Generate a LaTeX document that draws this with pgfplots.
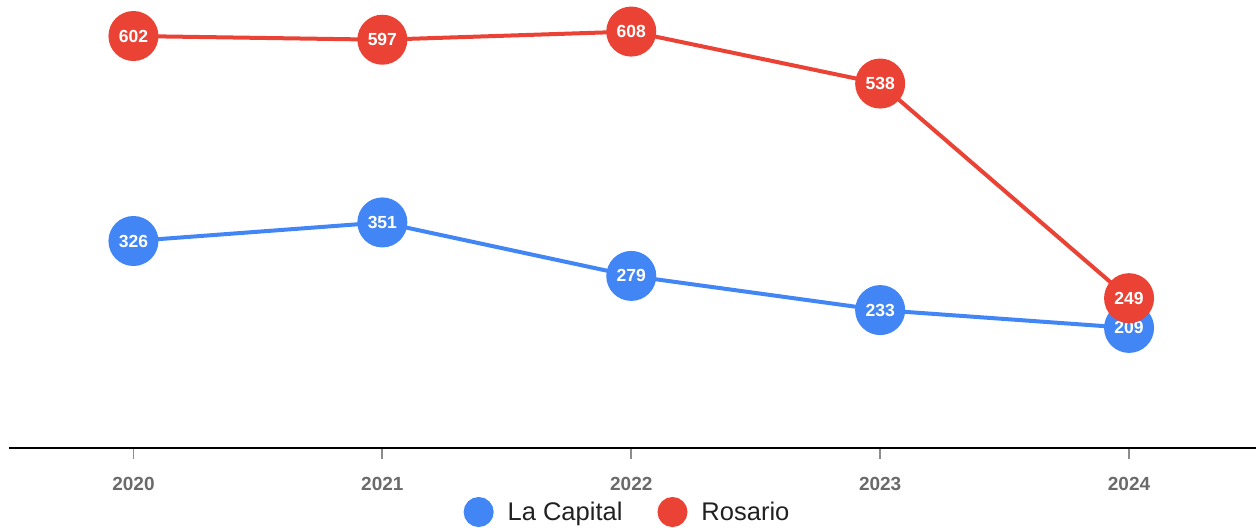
\documentclass[border=0pt]{standalone}
\usepackage{pgfplots}
\pgfplotsset{compat=1.18}
\usepackage{fontspec}
\setmainfont{Liberation Sans}
\definecolor{gblue}{HTML}{4285F4}
\definecolor{gred}{HTML}{EA4335}
\definecolor{tickgray}{HTML}{6A6A6A}
\begin{document}
\begin{tikzpicture}[x=1pt,y=1pt]
\useasboundingbox (0,0) rectangle (1257,527);
\begin{axis}[
  at={(9pt,79pt)}, anchor=south west,
  scale only axis, width=1247pt, height=448pt,
  xmin=2019.5, xmax=2024.51, ymin=47.3, ymax=650.5,
  clip=false,
  axis x line=bottom, axis y line=none,
  x axis line style={-, black, line width=2pt},
  xtick={2020,2021,2022,2023,2024},
  xticklabels={2020,2021,2022,2023,2024},
  xtick align=outside, xtick pos=left, major tick length=11pt,
  xtick style={draw=black!45, line width=1.8pt},
  xticklabel style={font=\fontsize{19}{19}\selectfont\bfseries, text=tickgray, anchor=north, yshift=-15pt},
  point meta=explicit symbolic,
  nodes near coords,
  every node near coord/.append style={anchor=center, text=white, font=\fontsize{17.5}{17.5}\selectfont\bfseries},
  legend style={at={(0.496,-0.1429)}, anchor=center, draw=none, fill=none,
    font=\fontsize{25.5}{25.5}\selectfont, text=black!87,
    /tikz/every even column/.append style={column sep=33pt},
    /tikz/every odd column/.append style={column sep=12pt}},
  legend columns=2,
  legend cell align=left,
]
\addplot[color=gblue, line width=4pt, mark=*, mark size=23pt, mark options={draw=none, fill=gblue},
  legend image code/.code={\fill[gblue] (0pt,0pt) circle (13pt);}]
  coordinates {(2020,326)[326] (2021,351)[351] (2022,279)[279] (2023,233)[233] (2024,209)[209]};
\addlegendentry{La Capital}
\addplot[color=gred, line width=4pt, mark=*, mark size=23pt, mark options={draw=none, fill=gred},
  legend image code/.code={\fill[gred] (0pt,0pt) circle (13pt);}]
  coordinates {(2020,602)[602] (2021,597)[597] (2022,608)[608] (2023,538)[538] (2024,249)[249]};
\addlegendentry{Rosario}
\end{axis}
\end{tikzpicture}
\end{document}
